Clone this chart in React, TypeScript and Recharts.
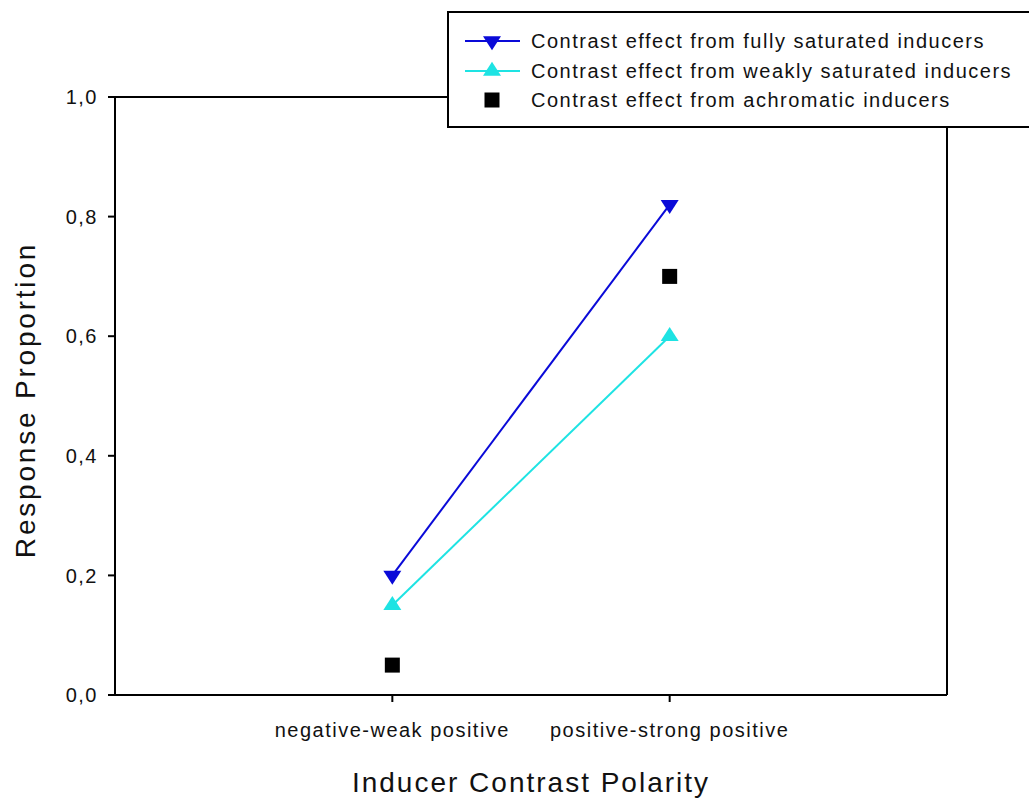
import { LineChart, Line, XAxis, YAxis, Legend, ReferenceLine } from 'recharts';

// categories on the x axis (placed at x = 1, 2 of a 0..3 numeric axis)
const categories = ['negative-weak positive', 'positive-strong positive'];
const categoryPositions = [1, 2];

// response proportions per series
const fullySaturated = [0.2, 0.82];
const weaklySaturated = [0.15, 0.6];
const achromatic = [0.05, 0.7];

const yTicks = [0, 0.2, 0.4, 0.6, 0.8, 1.0];

const seriesNames = [
  'Contrast effect from fully saturated inducers',
  'Contrast effect from weakly saturated inducers',
  'Contrast effect from achromatic inducers',
];

const BLUE = '#0a0ad8';
const CYAN = '#1ee3e3';
const FONT = '"Liberation Sans", Arial, sans-serif';

const rows = categoryPositions.map((x, i) => ({
  x,
  full: fullySaturated[i],
  weak: weaklySaturated[i],
  achro: achromatic[i],
}));

const DownTri = ({ cx, cy, fill }: any) => (
  <polygon points={`${cx - 9},${cy - 4.7} ${cx + 9},${cy - 4.7} ${cx},${cy + 9.3}`} fill={fill} />
);

const UpTri = ({ cx, cy, fill }: any) => (
  <polygon points={`${cx - 9},${cy + 4.7} ${cx + 9},${cy + 4.7} ${cx},${cy - 9.3}`} fill={fill} />
);

const Square = ({ cx, cy, fill }: any) => (
  <rect x={cx - 7.5} y={cy - 7.5} width={15} height={15} fill={fill} />
);

function LegendBox() {
  const rowTops = [30, 60, 89];
  return (
    <div
      style={{
        position: 'relative',
        width: 582,
        height: 117,
        boxSizing: 'border-box',
        border: '2px solid #000',
        borderRight: 'none',
        background: '#fff',
        fontFamily: FONT,
      }}
    >
      {seriesNames.map((name, i) => (
        <div key={name} style={{ position: 'absolute', left: 0, top: rowTops[i] - 2 - 12, height: 24, width: 580 }}>
          <svg width={60} height={24} style={{ position: 'absolute', left: 14, top: 0 }}>
            {i < 2 && <line x1={2} x2={57} y1={12} y2={12} stroke={i === 0 ? BLUE : CYAN} strokeWidth={2} />}
            {i === 0 && <DownTri cx={29} cy={12} fill={BLUE} />}
            {i === 1 && <UpTri cx={29} cy={12} fill={CYAN} />}
            {i === 2 && <Square cx={29} cy={12} fill="#000" />}
          </svg>
          <span
            style={{
              position: 'absolute',
              left: 82,
              top: 0,
              lineHeight: '24px',
              fontSize: 20,
              letterSpacing: 1.5,
              color: '#111',
              whiteSpace: 'nowrap',
            }}
          >
            {name}
          </span>
        </div>
      ))}
    </div>
  );
}

export default function App() {
  return (
    <div style={{ width: 1029, height: 801, background: '#fff' }}>
      <style>{`body{margin:0;}`}</style>
      <LineChart
        width={1029}
        height={801}
        data={rows}
        margin={{ top: 97, right: 82, bottom: 0, left: 0 }}
        style={{ fontFamily: FONT }}
      >
        <XAxis
          dataKey="x"
          type="number"
          domain={[0, 3]}
          ticks={categoryPositions}
          tickFormatter={(v) => categories[categoryPositions.indexOf(v)] ?? ''}
          height={106}
          stroke="#000"
          strokeWidth={2}
          tickSize={7}
          tickMargin={21}
          tick={{ fill: '#111', fontSize: 20, letterSpacing: 1.5 }}
          label={{
            content: ({ viewBox }: any) => (
              <text
                x={viewBox.x + viewBox.width / 2}
                y={viewBox.y + 97}
                textAnchor="middle"
                fontSize={28}
                letterSpacing={2}
                fill="#111"
              >
                Inducer Contrast Polarity
              </text>
            ),
          }}
        />
        <YAxis
          type="number"
          domain={[0, 1]}
          ticks={yTicks}
          tickFormatter={(v) => v.toFixed(1).replace('.', ',')}
          width={115}
          stroke="#000"
          strokeWidth={2}
          tickSize={7}
          tickMargin={10}
          tick={{ fill: '#111', fontSize: 20, letterSpacing: 1.5 }}
          label={{
            content: ({ viewBox }: any) => {
              const x = viewBox.x + 35;
              const y = viewBox.y + viewBox.height / 2 + 4;
              return (
                <text
                  x={x}
                  y={y}
                  transform={`rotate(-90 ${x} ${y})`}
                  textAnchor="middle"
                  fontSize={28}
                  letterSpacing={2.8}
                  fill="#111"
                >
                  Response Proportion
                </text>
              );
            },
          }}
        />
        <ReferenceLine y={1} stroke="#000" strokeWidth={2} />
        <ReferenceLine x={3} stroke="#000" strokeWidth={2} />
        <Line
          dataKey="full"
          stroke={BLUE}
          strokeWidth={2}
          isAnimationActive={false}
          dot={(p: any) => <DownTri key={`f${p.index}`} cx={p.cx} cy={p.cy} fill={BLUE} />}
          activeDot={false}
        />
        <Line
          dataKey="weak"
          stroke={CYAN}
          strokeWidth={2}
          isAnimationActive={false}
          dot={(p: any) => <UpTri key={`w${p.index}`} cx={p.cx} cy={p.cy} fill={CYAN} />}
          activeDot={false}
        />
        <Line
          dataKey="achro"
          stroke="none"
          strokeWidth={0}
          isAnimationActive={false}
          dot={(p: any) => <Square key={`a${p.index}`} cx={p.cx} cy={p.cy} fill="#000" />}
          activeDot={false}
        />
        <Legend
          layout="horizontal"
          verticalAlign="middle"
          align="center"
          content={() => <LegendBox />}
          wrapperStyle={{ top: 11, left: 447, width: 582, height: 117 }}
        />
      </LineChart>
    </div>
  );
}
